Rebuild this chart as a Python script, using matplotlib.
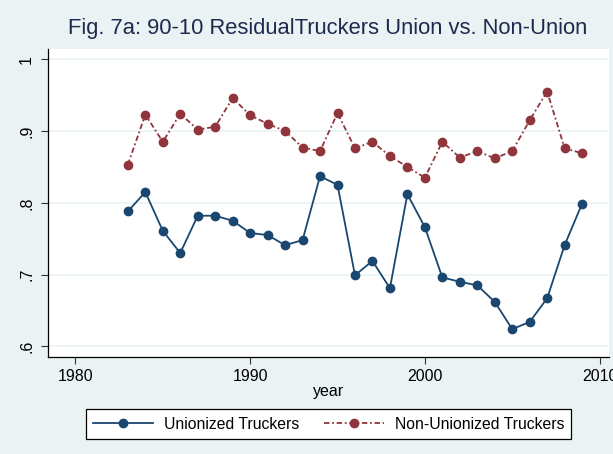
#!/usr/bin/env python3
"""Fig. 7a: 90-10 residual, union vs non-union truckers (Stata s2color look)."""
import matplotlib.pyplot as plt

BG = "#EAF2F3"
BLUE = "#1A476F"
RED = "#90353B"

years = list(range(1983, 2010))
union = [0.788, 0.815, 0.761, 0.730, 0.782, 0.782, 0.775, 0.758, 0.755, 0.741,
         0.748, 0.837, 0.825, 0.699, 0.719, 0.681, 0.812, 0.766, 0.696, 0.690,
         0.685, 0.662, 0.624, 0.634, 0.667, 0.741, 0.799]
nonunion = [0.853, 0.923, 0.885, 0.924, 0.902, 0.906, 0.946, 0.922, 0.910, 0.900,
            0.877, 0.872, 0.925, 0.876, 0.885, 0.865, 0.850, 0.835, 0.885, 0.863,
            0.872, 0.862, 0.872, 0.915, 0.955, 0.876, 0.869]
xticks = [1980, 1990, 2000, 2010]
yticks = [0.6, 0.7, 0.8, 0.9, 1.0]
ylabels = [".6", ".7", ".8", ".9", "1"]

plt.rcParams["font.family"] = ["Liberation Sans", "DejaVu Sans"]

fig = plt.figure(figsize=(6.13, 4.54), dpi=100, facecolor=BG)
ax = fig.add_axes([0.0783, 0.2137, 0.9152, 0.6784])
ax.set_facecolor("white")

ax.plot(years, union, color=BLUE, linewidth=1.3, marker="o", markersize=6,
        label="Unionized Truckers")
ax.plot(years, nonunion, color=RED, linewidth=1.3, marker="o", markersize=6,
        dashes=(3, 1.5, 1, 1.5), label="Non-Unionized Truckers")

ax.set_xlim(1978.43, 2010.54)
ax.set_ylim(0.5852, 1.0143)
ax.set_xticks(xticks)
ax.set_yticks(yticks)
ax.set_yticklabels(ylabels, rotation=90, va="center")
ax.grid(axis="y", color=BG, linewidth=1.2)
ax.set_axisbelow(True)
for side in ("top", "right"):
    ax.spines[side].set_visible(False)
for side in ("left", "bottom"):
    ax.spines[side].set_linewidth(0.9)
ax.tick_params(direction="out", length=5, width=0.8, labelsize=11.5, color="#333333")
ax.tick_params(axis="y", pad=5)

ax.set_xlabel("year", fontsize=11.5, labelpad=0)
fig.suptitle("Fig. 7a: 90-10 ResidualTruckers Union vs. Non-Union",
             x=0.534, y=0.96, fontsize=15.8, color="#1C2A4E")

leg = fig.legend(loc="center", bbox_to_anchor=(0.536, 0.066), ncol=2,
                 fancybox=False, edgecolor="black", framealpha=1,
                 fontsize=11.3, handlelength=3.8, columnspacing=1.6,
                 borderpad=0.45, handletextpad=0.7)
leg.get_frame().set_linewidth(0.9)

fig.savefig("out.png", dpi=100, facecolor=BG)
